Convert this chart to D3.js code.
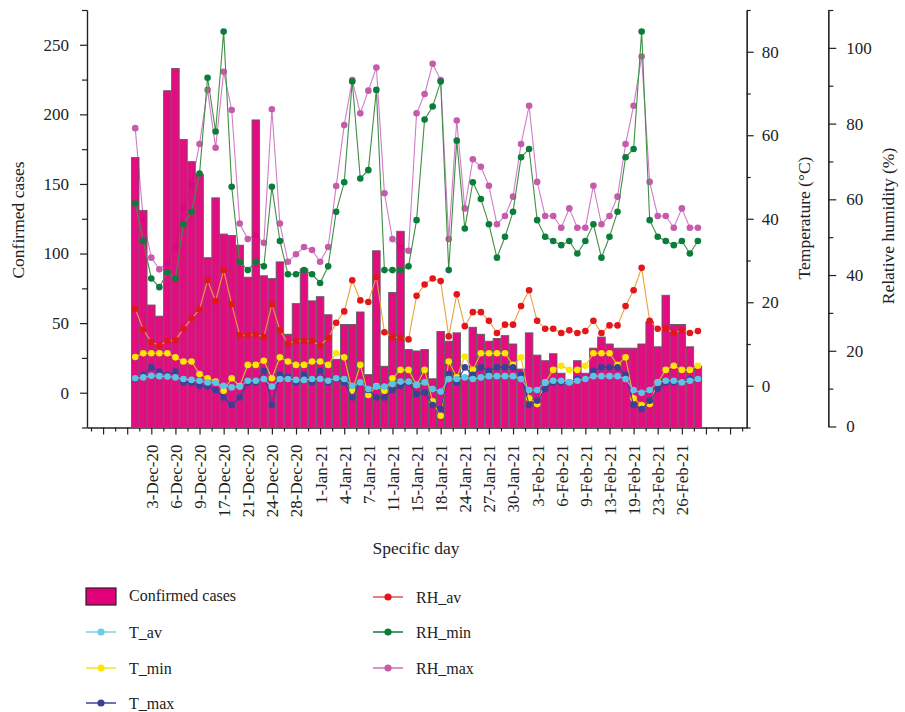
<!DOCTYPE html>
<meta charset="utf-8">
<style>
    body { margin: 0; background: #fff; }
    text { font-family: "Liberation Serif", "DejaVu Serif", serif; fill: #222; }
</style>
<script src="https://d3js.org/d3.v7.min.js"></script>

<svg id="chart" width="905" height="712"></svg>

<script>
    // categories (one per bar)
    var days = ["1-Dec-20","2-Dec-20","3-Dec-20","4-Dec-20","5-Dec-20","6-Dec-20","7-Dec-20","8-Dec-20","9-Dec-20",
        "15-Dec-20","16-Dec-20","17-Dec-20","18-Dec-20","20-Dec-20","21-Dec-20","22-Dec-20","23-Dec-20","24-Dec-20",
        "26-Dec-20","27-Dec-20","28-Dec-20","30-Dec-20","31-Dec-20",
        "1-Jan-21","2-Jan-21","3-Jan-21","4-Jan-21","5-Jan-21","6-Jan-21","7-Jan-21","9-Jan-21","10-Jan-21","11-Jan-21",
        "13-Jan-21","14-Jan-21","15-Jan-21","16-Jan-21","17-Jan-21","18-Jan-21","22-Jan-21","23-Jan-21","24-Jan-21",
        "25-Jan-21","26-Jan-21","27-Jan-21","28-Jan-21","29-Jan-21","30-Jan-21",
        "1-Feb-21","2-Feb-21","3-Feb-21","4-Feb-21","5-Feb-21","6-Feb-21","7-Feb-21","8-Feb-21","9-Feb-21",
        "11-Feb-21","12-Feb-21","13-Feb-21","17-Feb-21","18-Feb-21","19-Feb-21","21-Feb-21","22-Feb-21","23-Feb-21",
        "24-Feb-21","25-Feb-21","26-Feb-21","27-Feb-21","28-Feb-21"];

    var cases = [169,131,63,55,217,233,182,166,157,97, 140,114,113,106,83,196,84,82,94,42,
        64,89,66,69,56,24,49,49,58,13, 102,19,72,116,31,30,31,10,44,37,
        43,12,47,42,37,39,41,35,17,43, 27,23,28,14,6,23,14,32,40,35,
        32,32,32,35,51,33,70,49,49,33, 19];

    // temperature (right axis 1)
    var tAv = [1.8,2.0,2.4,2.3,2.2,2.0,1.6,1.4,1.2,0.8, 0.7,0.0,-0.4,-0.2,1.2,1.2,1.6,-0.2,1.6,1.6,
        1.4,1.4,1.6,1.6,1.2,1.8,1.6,0.0,0.8,-0.8, -0.2,-0.2,0.4,1.0,1.0,0.2,0.8,-0.8,-1.4,1.6,
        1.6,2.0,1.6,2.0,2.3,2.3,2.3,2.3,1.6,-1.0, -1.0,0.8,1.2,1.2,0.8,1.2,1.6,2.3,2.3,2.3,
        2.3,1.6,-1.0,-1.7,-1.0,0.8,1.2,1.2,0.8,1.2, 1.6];
    var tMin = [6.9,7.8,7.8,7.8,7.8,6.8,5.8,5.8,2.8,1.8, 1.0,-1.2,1.8,-0.1,5.0,5.0,6.0,1.8,6.8,5.8,
        5.0,5.0,5.8,5.8,5.0,7.8,6.8,-1.2,5.0,-2.2, -0.1,-1.2,1.8,3.8,3.8,0.2,3.8,-3.7,-7.2,5.8,
        2.0,7.0,3.8,7.8,7.8,7.8,7.8,5.0,6.8,-3.0, -4.4,0.8,3.8,4.8,3.8,3.8,4.8,7.8,7.8,7.8,
        5.0,6.8,-3.0,-4.6,-4.4,0.8,3.8,4.8,3.8,3.8, 4.8];
    var tMax = [1.6,2.6,4.4,3.4,2.6,3.4,0.8,0.7,0.0,-0.1, -1.0,-2.8,-4.6,-2.8,0.8,0.8,3.6,-4.6,2.6,2.1,
        0.8,2.6,0.8,3.6,0.8,1.6,0.8,-2.8,0.8,-1.0, -2.8,-2.8,-1.0,0.0,0.8,-2.0,-1.6,-4.6,-5.6,2.8,
        0.8,4.4,2.6,4.4,3.6,4.4,4.4,4.4,2.6,-4.6, -3.6,-0.8,0.8,0.8,0.8,1.6,1.6,3.6,4.4,4.4,
        4.4,2.6,-4.6,-5.6,-3.6,-0.8,0.8,0.8,0.8,1.6, 1.6];

    // relative humidity (right axis 2)
    var rhAv = [31.1,25.6,22.3,21.4,22.6,22.8,25.8,28.5,30.9,38.6, 33.1,41.3,32.3,24.1,24.1,24.3,23.6,32.3,25.4,22.0,
        22.6,22.6,22.6,21.4,23.4,27.4,30.4,38.6,33.3,32.9, 39.5,24.9,23.6,23.4,23.0,34.5,37.5,39.1,38.4,23.8,
        34.9,26.5,30.2,30.2,27.9,24.7,26.9,26.9,31.8,36.0, 27.9,25.8,25.8,24.7,25.4,24.7,25.2,27.9,24.7,26.7,
        26.7,31.8,36.0,41.9,27.9,25.8,25.8,24.7,25.4,24.7, 25.2];
    var rhMin = [58.9,49.0,39.1,36.8,40.7,39.1,53.4,56.7,66.8,92.1, 77.9,104.3,63.3,43.5,41.3,43.5,42.3,63.3,49.0,40.2,
        40.2,41.3,40.2,37.9,42.3,56.7,64.5,91.1,65.5,67.7, 88.9,41.3,41.3,41.3,42.3,54.5,81.1,84.5,91.1,41.3,
        75.5,52.3,64.5,60.1,53.4,44.6,50.1,56.7,71.1,73.3, 54.5,50.1,49.0,47.9,49.0,45.7,49.0,53.4,44.6,50.1,
        56.7,71.1,73.3,104.3,54.5,50.1,49.0,47.9,49.0,45.7, 49.0];
    var rhMax = [78.8,54.8,44.6,41.5,43.4,47.4,57.8,63.8,74.6,88.9, 73.6,93.7,83.6,53.6,49.5,50.5,48.5,83.8,53.6,43.5,
        45.5,47.4,46.6,43.5,47.4,63.5,79.6,91.5,82.7,88.7, 94.8,61.6,49.5,47.4,46.4,82.7,87.8,95.8,91.5,49.5,
        80.8,57.6,70.6,68.6,63.6,53.4,55.6,60.7,74.6,84.7, 64.6,55.6,55.6,52.5,57.6,52.5,52.5,63.6,53.4,55.6,
        60.7,74.6,84.7,97.7,64.6,55.6,55.6,52.5,57.6,52.5, 52.5];

    var svg = d3.select("#chart");

    // scales (x works on the category index)
    var x = d3.scaleLinear().domain([-6, 76.07]).range([87, 746.7]);
    var yCases = d3.scaleLinear().domain([-25, 275]).range([427.5, 10]);
    var yTemp = d3.scaleLinear().domain([-10, 90]).range([427.5, 10]);
    var yRh = d3.scaleLinear().domain([0, 110]).range([426.5, 10]);

    function styleAxis(g) {
        g.attr("font-size", 17).attr("font-family", null);
        g.selectAll("path, line").attr("stroke", "#222").attr("stroke-width", 1.2);
        g.selectAll("text").attr("fill", "#222");
    }

    function minorOnly(values, major) {
        return values.filter(function(v) { return major.indexOf(v) < 0; });
    }

    // left axis: confirmed cases
    var caseMajor = d3.range(0, 251, 50);
    svg.append("g")
        .attr("transform", "translate(87,0)")
        .call(d3.axisLeft(yCases).tickValues(caseMajor).tickSize(7).tickSizeOuter(0).tickPadding(11))
        .call(styleAxis);
    svg.append("g")
        .attr("transform", "translate(87,0)")
        .call(d3.axisLeft(yCases).tickValues(minorOnly(d3.range(-25, 276, 25), caseMajor))
            .tickSize(5).tickSizeOuter(0).tickFormat(""))
        .call(styleAxis);

    // right axis 1: temperature
    var tempMajor = d3.range(0, 81, 20);
    svg.append("g")
        .attr("transform", "translate(746.7,0)")
        .call(d3.axisRight(yTemp).tickValues(tempMajor).tickSize(7).tickSizeOuter(0).tickPadding(8))
        .call(styleAxis);
    svg.append("g")
        .attr("transform", "translate(746.7,0)")
        .call(d3.axisRight(yTemp).tickValues(minorOnly(d3.range(-10, 91, 10), tempMajor))
            .tickSize(4).tickSizeOuter(0).tickFormat(""))
        .call(styleAxis);

    // right axis 2: relative humidity
    var rhMajor = d3.range(0, 101, 20);
    svg.append("g")
        .attr("transform", "translate(828.3,0)")
        .call(d3.axisRight(yRh).tickValues(rhMajor).tickSize(8).tickSizeOuter(0).tickPadding(10))
        .call(styleAxis);
    svg.append("g")
        .attr("transform", "translate(828.3,0)")
        .call(d3.axisRight(yRh).tickValues(minorOnly(d3.range(0, 111, 10), rhMajor))
            .tickSize(5).tickSizeOuter(0).tickFormat(""))
        .call(styleAxis);

    // bottom axis
    var xMajor = d3.range(-4, 76, 3);
    var xMinor = d3.range(-5.5, 76, 3);
    var xAxisG = svg.append("g")
        .attr("transform", "translate(0,427.5)")
        .call(d3.axisBottom(x).tickValues(xMajor).tickSize(7).tickSizeOuter(0)
            .tickFormat(function(i) { return days[i] !== undefined && i % 3 === 2 ? days[i] : ""; }))
        .call(styleAxis);
    xAxisG.selectAll("text")
        .attr("transform", "translate(0,17) rotate(-90)")
        .attr("x", 0).attr("y", 0).attr("dy", "0.35em")
        .attr("text-anchor", "end");
    svg.append("g")
        .attr("transform", "translate(0,427.5)")
        .call(d3.axisBottom(x).tickValues(xMinor).tickSize(4).tickSizeOuter(0).tickFormat(""))
        .call(styleAxis);

    // axis titles
    svg.append("text").attr("transform", "translate(18,220) rotate(-90)")
        .attr("text-anchor", "middle").attr("dy", "0.35em").attr("font-size", 17.5).text("Confirmed cases");
    svg.append("text").attr("transform", "translate(804,218) rotate(-90)")
        .attr("text-anchor", "middle").attr("dy", "0.35em").attr("font-size", 17.5).text("Temperature (°C)");
    svg.append("text").attr("transform", "translate(888,226) rotate(-90)")
        .attr("text-anchor", "middle").attr("dy", "0.35em").attr("font-size", 17.5).text("Relative humidity (%)");
    svg.append("text").attr("x", 416).attr("y", 554)
        .attr("text-anchor", "middle").attr("font-size", 17.5).text("Specific day");

    // one line series with dots
    function drawSeries(values, yScale, lineColor, dotColor) {
        var g = svg.append("g");
        g.append("path")
            .datum(values)
            .attr("fill", "none")
            .attr("stroke", lineColor)
            .attr("stroke-width", 1.1)
            .attr("d", d3.line()
                .x(function(d, i) { return x(i); })
                .y(function(d) { return yScale(d); }));
        g.selectAll("circle")
            .data(values)
            .enter().append("circle")
            .attr("cx", function(d, i) { return x(i); })
            .attr("cy", function(d) { return yScale(d); })
            .attr("r", 3.3)
            .attr("fill", dotColor);
    }

    // RH_max sits behind the bars
    drawSeries(rhMax, yRh, "#d27cc6", "#c65aab");

    var barW = (x(1) - x(0)) * 0.94;
    svg.append("g")
        .selectAll("rect")
        .data(cases)
        .enter().append("rect")
        .attr("x", function(d, i) { return x(i) - barW / 2; })
        .attr("y", function(d) { return yCases(d); })
        .attr("width", barW)
        .attr("height", function(d) { return yCases(-25) - yCases(d); })
        .attr("fill", "#e2007a")
        .attr("fill-opacity", 0.95)
        .attr("stroke", "#5e5e5e")
        .attr("stroke-width", 0.9);

    drawSeries(rhMin, yRh, "#3f8f45", "#0b7d3a");
    drawSeries(rhAv, yRh, "#e9a23c", "#e3161b");
    drawSeries(tMin, yTemp, "#e8b830", "#ffe600");
    drawSeries(tMax, yTemp, "#3a3f98", "#3a3f98");
    drawSeries(tAv, yTemp, "#5cc5e5", "#5cc5e5");

    // legend
    var legendNames = ["T_av", "T_min", "T_max", "RH_av", "RH_min", "RH_max"];
    var legendLine = ["#7fd0e8", "#f2e22a", "#3b469a", "#e25050", "#137a3c", "#cf72b8"];
    var legendDot = ["#6ccbe8", "#ffe600", "#3a3f98", "#e3161b", "#0b7d3a", "#c65aab"];
    var legendX = [86, 86, 86, 373, 373, 373];
    var legendY = [632, 668, 703, 597, 632, 668];

    var lg = svg.append("g");
    lg.append("rect").attr("x", 86).attr("y", 588).attr("width", 30).attr("height", 17)
        .attr("fill", "#e2007a").attr("stroke", "#222").attr("stroke-width", 1.2);
    lg.append("text").attr("x", 129).attr("y", 601).attr("font-size", 16).text("Confirmed cases");

    legendNames.forEach(function(name, k) {
        lg.append("line")
            .attr("x1", legendX[k]).attr("x2", legendX[k] + 30)
            .attr("y1", legendY[k]).attr("y2", legendY[k])
            .attr("stroke", legendLine[k]).attr("stroke-width", 1.5);
        lg.append("circle")
            .attr("cx", legendX[k] + 15).attr("cy", legendY[k]).attr("r", 3.6)
            .attr("fill", legendDot[k]);
        lg.append("text")
            .attr("x", legendX[k] + 43).attr("y", legendY[k] + 6)
            .attr("font-size", 16).text(name);
    });
</script>
